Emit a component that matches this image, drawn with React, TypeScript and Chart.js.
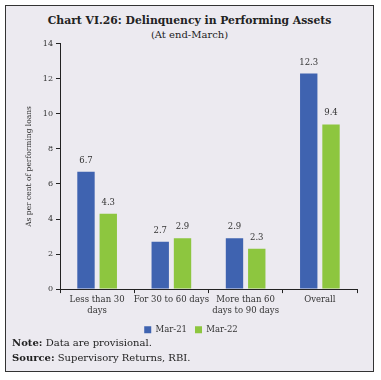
import React, { useEffect, useRef } from "react";
import { Chart, registerables } from "chart.js";

Chart.register(...registerables);

const categories: (string | string[])[] = [
  ["Less than 30", "days"],
  "For 30 to 60 days",
  ["More than 60", "days to 90 days"],
  "Overall",
];
const mar21 = [6.7, 2.7, 2.9, 12.3];
const mar22 = [4.3, 2.9, 2.3, 9.4];
const seriesNames = ["Mar-21", "Mar-22"];
const yTicks = [0, 2, 4, 6, 8, 10, 12, 14];

const FONT = "'DejaVu Serif', 'Liberation Serif', serif";

const valueLabels = {
  id: "valueLabels",
  afterDatasetsDraw(chart: any) {
    const ctx = chart.ctx;
    ctx.save();
    ctx.font = `8.5px ${FONT}`;
    ctx.fillStyle = "#333";
    ctx.textAlign = "center";
    ctx.textBaseline = "bottom";
    chart.data.datasets.forEach((ds: any, i: number) => {
      const meta = chart.getDatasetMeta(i);
      meta.data.forEach((bar: any, j: number) => {
        ctx.fillText(ds.data[j].toFixed(1), bar.x, bar.y - 7);
      });
    });
    ctx.restore();
  },
};

export default function App() {
  const ref = useRef<HTMLCanvasElement>(null);
  useEffect(() => {
    if (!ref.current) return;
    const chart = new Chart(ref.current, {
      type: "bar",
      data: {
        labels: categories,
        datasets: [
          { label: seriesNames[0], data: mar21, backgroundColor: "#3F63B0", categoryPercentage: 0.6, barPercentage: 0.78 },
          { label: seriesNames[1], data: mar22, backgroundColor: "#8DC63F", categoryPercentage: 0.6, barPercentage: 0.78 },
        ],
      },
      options: {
        animation: false,
        responsive: false,
        maintainAspectRatio: false,
        layout: { padding: { left: 19, right: 16, top: 2, bottom: 0 } },
        plugins: {
          legend: {
            position: "bottom",
            labels: {
              boxWidth: 7,
              boxHeight: 7,
              padding: 8,
              color: "#333",
              font: { family: FONT, size: 8.5 },
            },
          },
          tooltip: { enabled: false },
        },
        scales: {
          x: {
            grid: { offset: true, drawOnChartArea: false, drawTicks: true, tickLength: 4, color: "#222" },
            border: { display: true, color: "#222", width: 1 },
            ticks: { color: "#333", font: { family: FONT, size: 8.5 }, maxRotation: 0, autoSkip: false, padding: 2 },
          },
          y: {
            min: 0,
            max: 14,
            afterBuildTicks: (scale: any) => {
              scale.ticks = yTicks.map((v) => ({ value: v }));
            },
            afterFit: (scale: any) => {
              scale.width = 35;
            },
            grid: { drawOnChartArea: false, drawTicks: true, tickLength: 4, color: "#222" },
            border: { display: true, color: "#222", width: 1 },
            ticks: { color: "#333", font: { family: FONT, size: 8 }, padding: 3 },
            title: {
              display: true,
              text: "As per cent of performing loans",
              color: "#333",
              font: { family: FONT, size: 7.5 },
              padding: { top: 0, bottom: 0 },
            },
          },
        },
      },
      plugins: [valueLabels],
    });
    return () => chart.destroy();
  }, []);

  return (
    <div style={{ position: "fixed", left: 0, top: 0, width: 381, height: 380, background: "#fff" }}>
      <div
        style={{
          position: "absolute",
          left: 5,
          top: 5,
          width: 367,
          height: 365,
          border: "1.5px solid #333",
          background: "#ECEAF0",
          fontFamily: FONT,
          color: "#222",
        }}
      >
        <div style={{ position: "absolute", left: 0, right: 0, top: 8, textAlign: "center", fontWeight: "bold", fontSize: 10.8 }}>
          Chart VI.26: Delinquency in Performing Assets
        </div>
        <div style={{ position: "absolute", left: 0, right: 0, top: 23, textAlign: "center", fontSize: 10 }}>
          (At end-March)
        </div>
        <canvas ref={ref} width={367} height={308} style={{ position: "absolute", left: 0, top: 30 }} />
        <div style={{ position: "absolute", left: 6, top: 330, fontSize: 10, lineHeight: "14.5px" }}>
          <div><b>Note:</b> Data are provisional.</div>
          <div><b>Source:</b> Supervisory Returns, RBI.</div>
        </div>
      </div>
    </div>
  );
}
